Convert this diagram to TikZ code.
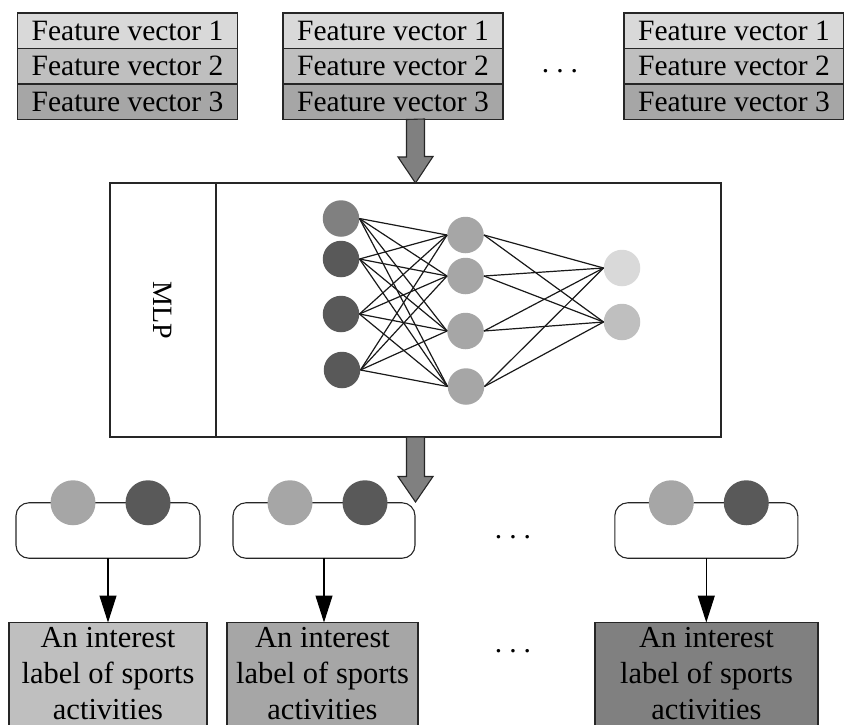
\documentclass[tikz,border=0pt]{standalone}
\usepackage{fontspec}
\setmainfont{Liberation Serif}
\definecolor{gone}{HTML}{D9D9D9}
\definecolor{gtwo}{HTML}{BFBFBF}
\definecolor{gthree}{HTML}{A6A6A6}
\definecolor{gfour}{HTML}{808080}
\definecolor{gfive}{HTML}{595959}
\usetikzlibrary{calc, positioning, arrows.meta}

\begin{document}
\begin{tikzpicture}[x=1pt, y=-1pt,
  frow/.style={draw=black!85, line width=1.1pt, outer sep=0pt, inner sep=0pt,
               minimum width=220pt, minimum height=35.5pt,
               font=\fontsize{29.5}{32}\selectfont},
  neuron/.style={circle, inner sep=0pt, minimum size=36.5pt},
  link/.style={draw=black!90, line width=1.2pt},
  fatarrow/.style={draw=black!85, fill=gfour, line width=1.1pt, line join=miter},
  group/.style={draw=black!85, line width=1.1pt, rounded corners=13pt,
                minimum height=55.5pt, outer sep=0pt},
  ball/.style={circle, inner sep=0pt, minimum size=45pt},
  tag/.style={draw=black!85, line width=1.1pt, outer sep=0pt, inner sep=0pt,
              minimum height=103pt, align=center, anchor=north,
              font=\fontsize{30.5}{36}\selectfont},
  dots/.style={font=\fontsize{29.5}{32}\selectfont},
]
\useasboundingbox (0,0) rectangle (844,724);

\node[frow, fill=gone] (a1) at (127.5,30.75) {Feature vector 1};
\node[frow, fill=gtwo, below=0pt of a1] (a2) {Feature vector 2};
\node[frow, fill=gthree, below=0pt of a2] (a3) {Feature vector 3};

\node[frow, fill=gone] (b1) at (393,30.75) {Feature vector 1};
\node[frow, fill=gtwo, below=0pt of b1] (b2) {Feature vector 2};
\node[frow, fill=gthree, below=0pt of b2] (b3) {Feature vector 3};

\node[frow, fill=gone] (c1) at (734,30.75) {Feature vector 1};
\node[frow, fill=gtwo, below=0pt of c1] (c2) {Feature vector 2};
\node[frow, fill=gthree, below=0pt of c2] (c3) {Feature vector 3};

\node[dots] (dtop) at (560,71) {.\hspace{7pt}.\hspace{7pt}.};

\node[draw=black!85, line width=1.1pt, outer sep=0pt,
      minimum width=611pt, minimum height=254pt] (mlp) at (415.5,310) {};
\draw[line width=1.1pt, draw=black!85] ($(mlp.north west)+(106,0)$) -- ($(mlp.south west)+(106,0)$);
\node[rotate=-90, font=\fontsize{28}{30}\selectfont] (mlpname) at (163,310) {MLP};

\node[neuron, fill=gfour] (i1) at (341,218.5) {};
\node[neuron, fill=gfive] (i2) at (341,259) {};
\node[neuron, fill=gfive] (i3) at (341,314) {};
\node[neuron, fill=gfive] (i4) at (342,370) {};
\node[neuron, fill=gthree] (h1) at (465.5,235) {};
\node[neuron, fill=gthree] (h2) at (465.5,276) {};
\node[neuron, fill=gthree] (h3) at (465.5,331) {};
\node[neuron, fill=gthree] (h4) at (466,386.5) {};
\node[neuron, fill=gone] (o1) at (622,268) {};
\node[neuron, fill=gtwo] (o2) at (622,322) {};

\foreach \a in {1,...,4}
  \foreach \b in {1,...,4}
    \draw[link] (i\a.east) -- (h\b.west);
\foreach \a in {1,...,4}
  \foreach \b in {1,2}
    \draw[link] (h\a.east) -- (o\b.west);

\draw[fatarrow] ($(mlp.north |- b3.south)+(-9,0)$) -- ++(0,37.5) -- ++(-8.5,0)
  -- (mlp.north) -- ++(17.5,-26.5) -- ++(-8.5,0) -- ++(0,-37.5) -- cycle;

\node[group, minimum width=184pt] (g1) at (108,530.5) {};
\node[group, minimum width=182pt] (g2) at (324,530.5) {};
\node[group, minimum width=183pt] (g3) at (706.3,530.5) {};

\node[ball, fill=gthree] (p1) at ($(g1.north)+(-35,0)$) {};
\node[ball, fill=gfive] (q1) at ($(g1.north)+(40,0)$) {};
\node[ball, fill=gthree] (p2) at ($(g2.north)+(-34,0)$) {};
\node[ball, fill=gfive] (q2) at ($(g2.north)+(41,0)$) {};
\node[ball, fill=gthree] (p3) at ($(g3.north)+(-35,0)$) {};
\node[ball, fill=gfive] (q3) at ($(g3.north)+(40,0)$) {};

\draw[fatarrow] ($(mlp.south)+(-9,0)$) -- ++(0,39.5) -- ++(-8.5,0) -- ++(17.5,25.5)
  coordinate (tip) -- ++(17.5,-25.5) -- ++(-8.5,0) -- ++(0,-39.5) -- cycle;

\node[dots] (dmid) at (513,537.5) {.\hspace{7pt}.\hspace{7pt}.};

\node[tag, fill=gtwo, minimum width=198pt] (t1) at (108,622.5) {An interest\\label of sports\\activities};
\node[tag, fill=gthree, minimum width=191pt] (t2) at (322.5,622.5) {An interest\\label of sports\\activities};
\node[tag, fill=gfour, minimum width=223pt] (t3) at (706.5,622.5) {An interest\\label of sports\\activities};

\node[dots] (dbot) at (513,651) {.\hspace{7pt}.\hspace{7pt}.};

\draw[-{Triangle[length=27pt,width=17pt]}, line width=1.1pt] (g1.south) -- (g1.south |- t1.north);
\draw[-{Triangle[length=27pt,width=17pt]}, line width=1.1pt] (g2.south) -- (g2.south |- t2.north);
\draw[-{Triangle[length=27pt,width=17pt]}, line width=1.1pt] (g3.south) -- (g3.south |- t3.north);
\end{tikzpicture}
\end{document}
